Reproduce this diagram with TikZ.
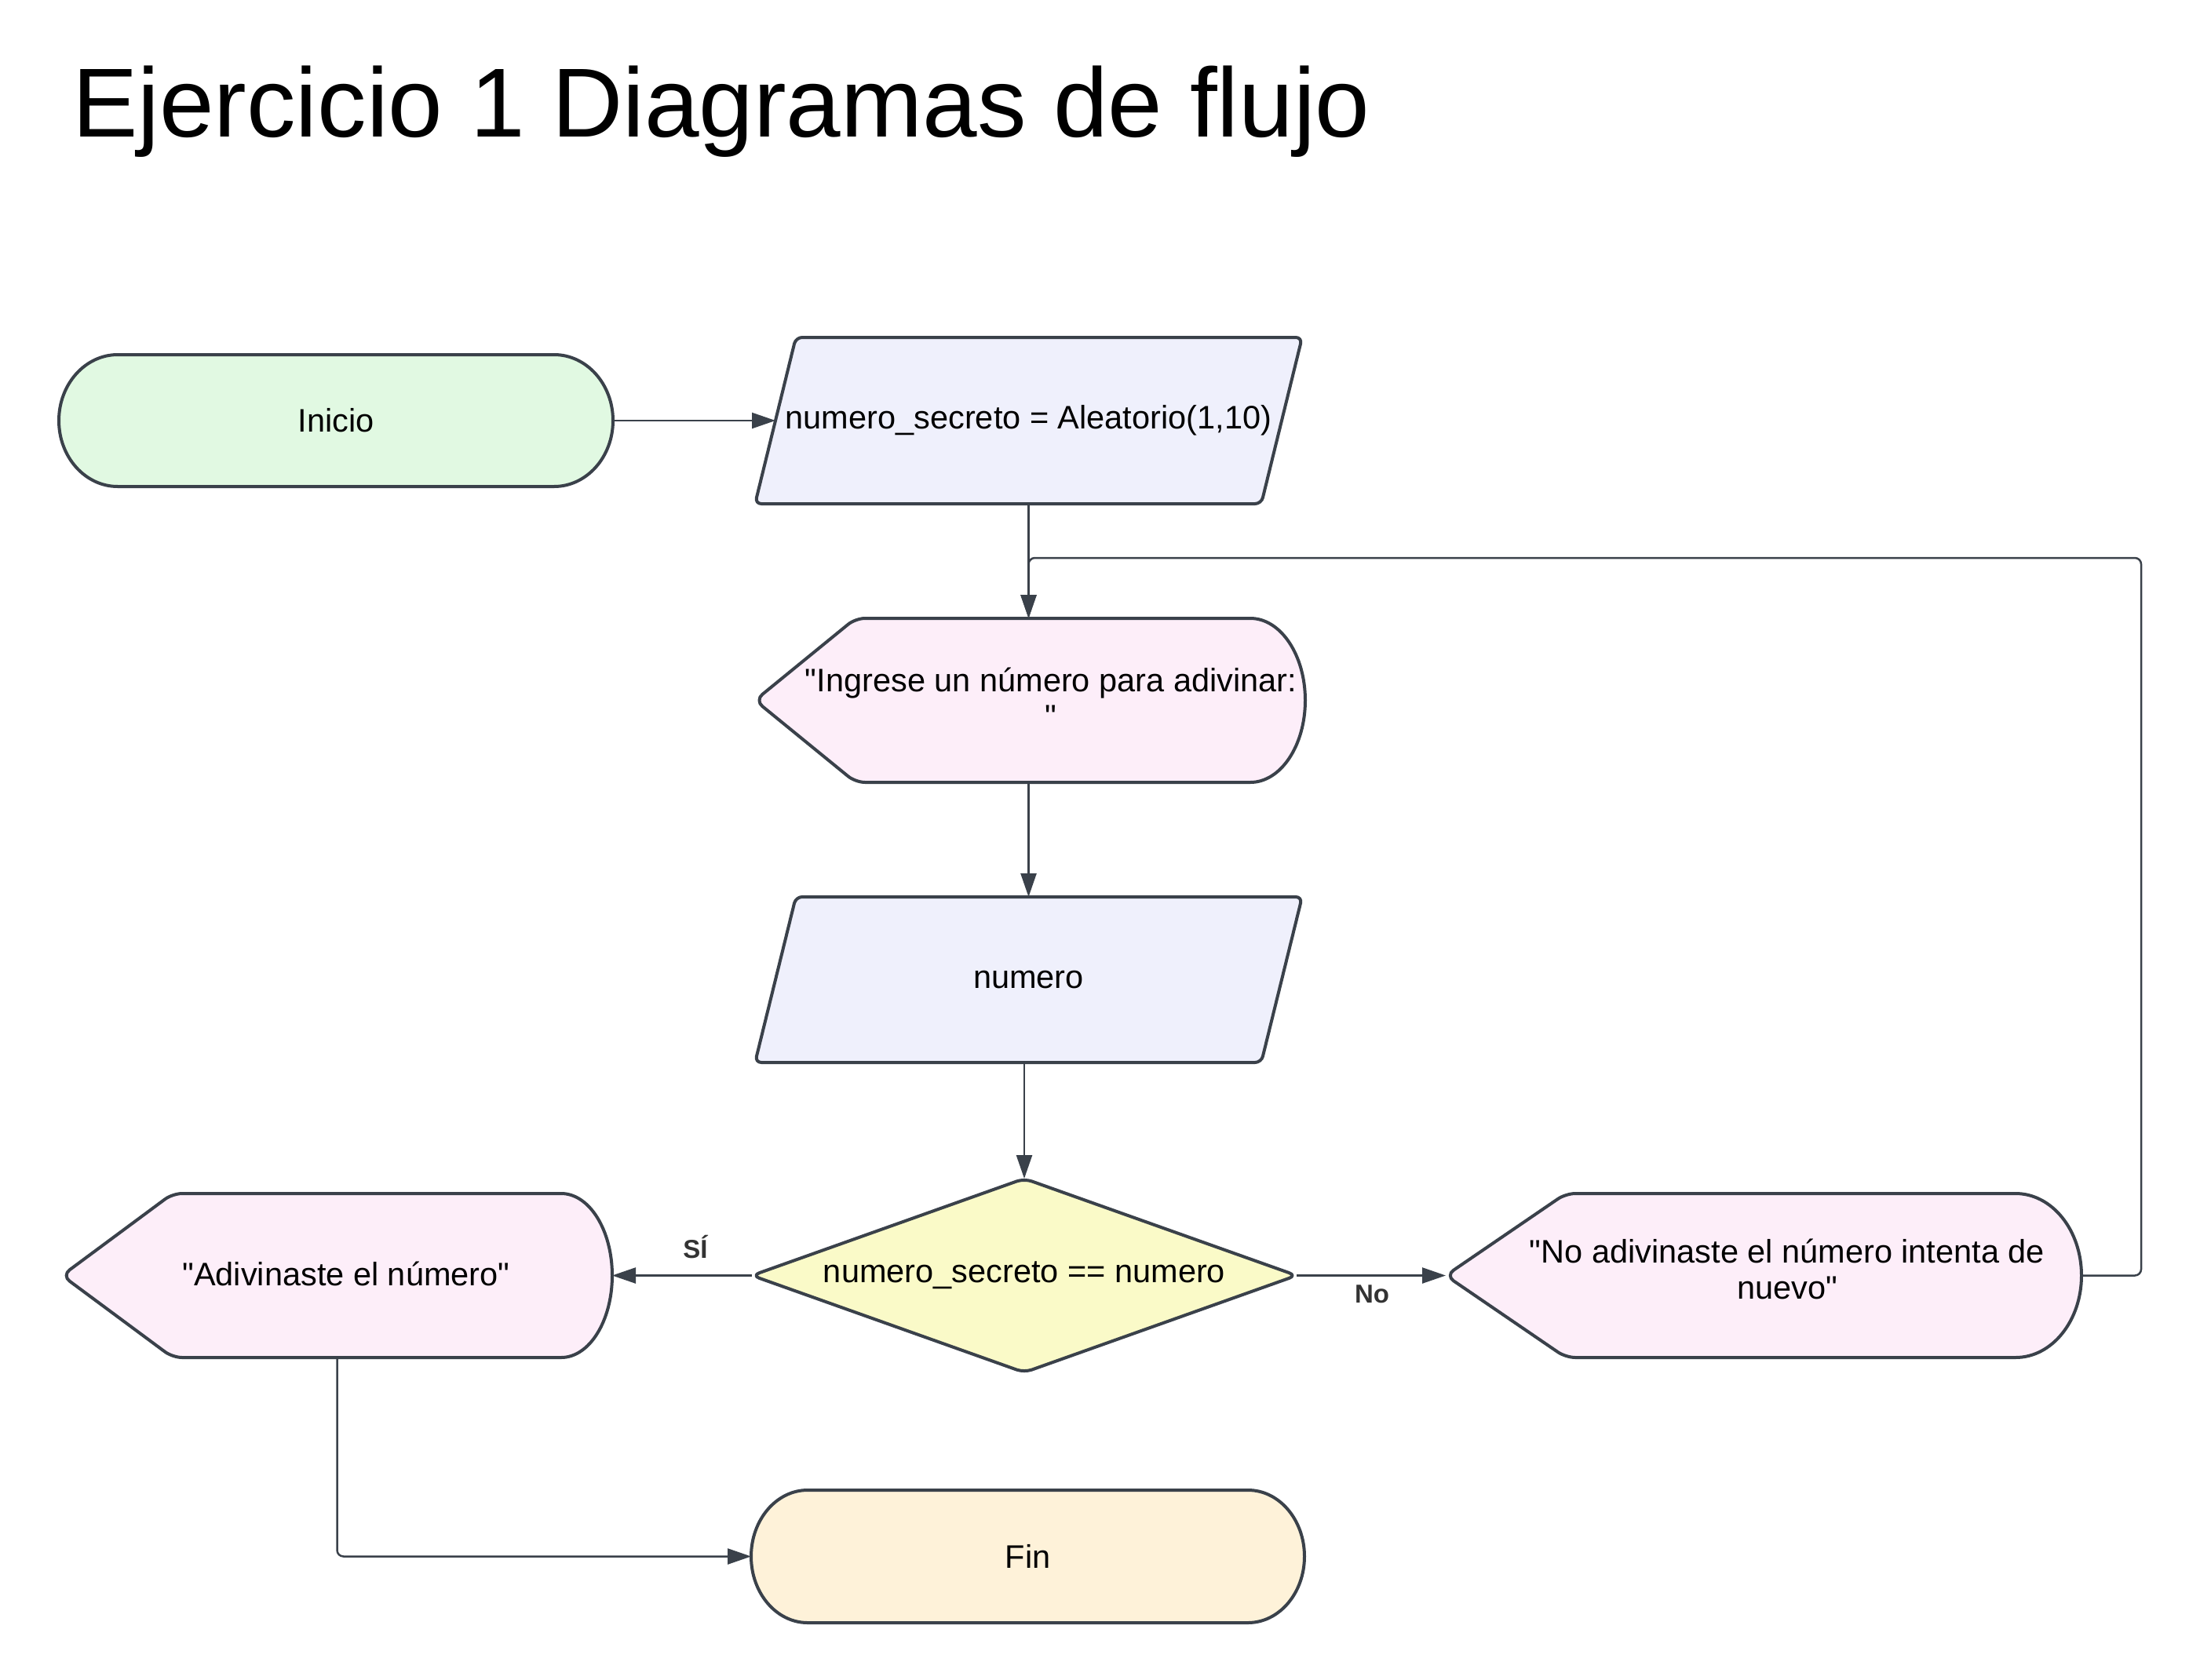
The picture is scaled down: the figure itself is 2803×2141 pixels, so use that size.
\documentclass[tikz,border=0pt]{standalone}
\usepackage{fontspec}
\setmainfont{Liberation Sans}[Ligatures=TeXReset]
\usetikzlibrary{arrows.meta}
\definecolor{strokec}{HTML}{3A414A}
\definecolor{greenc}{HTML}{E1F9E2}
\definecolor{lavc}{HTML}{EFF0FC}
\definecolor{pinkc}{HTML}{FDEEF9}
\definecolor{yellowc}{HTML}{FAFAC8}
\definecolor{finc}{HTML}{FEF2D9}
\definecolor{labelc}{HTML}{333333}
\tikzset{
  outline/.style={draw=strokec, line width=4pt, line join=round},
  conn/.style={draw=strokec, line width=2.5pt, rounded corners=8pt},
  arr/.style={-{Triangle[length=30pt,width=20pt]}},
  box/.style={inner sep=0pt, outer sep=0pt, align=center, text=black,
              font=\fontsize{41.5}{46}\selectfont},
  txtn/.style={inner sep=0pt, align=center, text=black,
              font=\fontsize{41.5}{46}\selectfont},
  lbl/.style={inner sep=0pt, anchor=base, text=labelc,
              font=\bfseries\fontsize{33}{38}\selectfont}
}
% terminator: L, T, R, B, rx, fill
\newcommand{\myterm}[6]{%
 \pgfmathsetmacro{\tM}{(#2+#4)/2}%
 \pgfmathsetmacro{\tMu}{\tM-(#4-#2)/2*0.5523}%
 \pgfmathsetmacro{\tMd}{\tM+(#4-#2)/2*0.5523}%
 \pgfmathsetmacro{\tA}{#1+#5}%
 \pgfmathsetmacro{\tB}{#3-#5}%
 \pgfmathsetmacro{\tAc}{#1+#5*0.4477}%
 \pgfmathsetmacro{\tBc}{#3-#5*0.4477}%
 \draw[outline, fill=#6] (\tA,#2) -- (\tB,#2) .. controls (\tBc,#2) and (#3,\tMu) .. (#3,\tM) .. controls (#3,\tMd) and (\tBc,#4) .. (\tB,#4) -- (\tA,#4) .. controls (\tAc,#4) and (#1,\tMd) .. (#1,\tM) .. controls (#1,\tMu) and (\tAc,#2) .. (\tA,#2) -- cycle;}
% display: L, T, R, B, P, rx, fill
\newcommand{\mydisp}[7]{%
 \pgfmathsetmacro{\dM}{(#2+#4)/2}%
 \pgfmathsetmacro{\dMu}{\dM-(#4-#2)/2*0.5523}%
 \pgfmathsetmacro{\dMd}{\dM+(#4-#2)/2*0.5523}%
 \pgfmathsetmacro{\dB}{#3-#6}%
 \pgfmathsetmacro{\dBc}{#3-#6*0.4477}%
 \draw[outline, fill=#7] (\dB,#2) .. controls (\dBc,#2) and (#3,\dMu) .. (#3,\dM) .. controls (#3,\dMd) and (\dBc,#4) .. (\dB,#4) [rounded corners=12pt] -- (#5,#4) -- (#1,\dM) -- (#5,#2) [sharp corners] -- cycle;}
\begin{document}
\begin{tikzpicture}[x=1pt,y=-1pt]
\useasboundingbox[fill=white] (0,0) rectangle (2803,2141);

% title
\node[anchor=base west, inner sep=0pt, font=\fontsize{125}{140}\selectfont] (title) at (92,174) {Ejercicio 1 Diagramas de flujo};

% shapes
\myterm{75}{452}{781}{620}{75}{greenc}
\draw[outline, fill=lavc, rounded corners=8pt] (1014,430) -- (1659,430) -- (1607,642) -- (962,642) -- cycle;
\mydisp{962}{788}{1663}{997}{1090}{70}{pinkc}
\draw[outline, fill=lavc, rounded corners=8pt] (1014,1143) -- (1659,1143) -- (1607,1354) -- (962,1354) -- cycle;
\draw[outline, fill=yellowc, rounded corners=10pt] (1305,1502) -- (1652,1625.5) -- (1305,1749) -- (958,1625.5) -- cycle;
\mydisp{79}{1521}{780}{1730}{220}{65}{pinkc}
\mydisp{1842}{1521}{2652}{1730}{1995}{84}{pinkc}
\myterm{957}{1899}{1662}{2068}{72}{finc}

% nodes (named, sized as the shapes)
\node[box, minimum width=706, minimum height=168] (ini) at (428,536) {Inicio};
\node[box, minimum width=645, minimum height=212] (p1) at (1310.5,536) {numero\_secreto = Aleatorio(1,10)};
\node[box, minimum width=701, minimum height=209] (ing) at (1312.5,892.5) {};
\node[txtn] (ingt) at (1339,889) {"Ingrese un número para adivinar:\\"};
\node[box, minimum width=645, minimum height=211] (p2) at (1310.5,1248.5) {numero};
\node[box, minimum width=694, minimum height=247] (dia) at (1305,1625.5) {numero\_secreto == numero};
\node[box, minimum width=701, minimum height=209] (adv) at (429.5,1625.5) {};
\node[txtn] (advt) at (441,1623) {"Adivinaste el número"};
\node[box, minimum width=810, minimum height=209] (nod) at (2247,1625.5) {};
\node[txtn] (nodt) at (2277,1617) {"No adivinaste el número intenta de\\nuevo"};
\node[box, minimum width=705, minimum height=169] (fin) at (1309.5,1983.5) {Fin};

% connectors
\coordinate (loopc) at (2728,711);
\draw[conn, arr] (ini.east) -- (p1.west);
\draw[conn, arr] (p1.south) -- (p1.south |- ing.north);
\draw[conn, arr] (ing.south -| p2.north) -- (p2.north);
\draw[conn, arr] (p2.south -| dia.north) -- (dia.north);
\draw[conn, arr] (dia.west) -- (adv.east);
\draw[conn, arr] (dia.east) -- (nod.west);
\draw[conn, arr] (nod.east) -| (loopc) -| (p1.south |- ing.north);
\draw[conn, arr] (adv.south) |- (fin.west);

% labels
\node[lbl] (lsi) at (886,1603) {SÍ};
\node[lbl] (lno) at (1748,1660) {No};
\end{tikzpicture}
\end{document}
